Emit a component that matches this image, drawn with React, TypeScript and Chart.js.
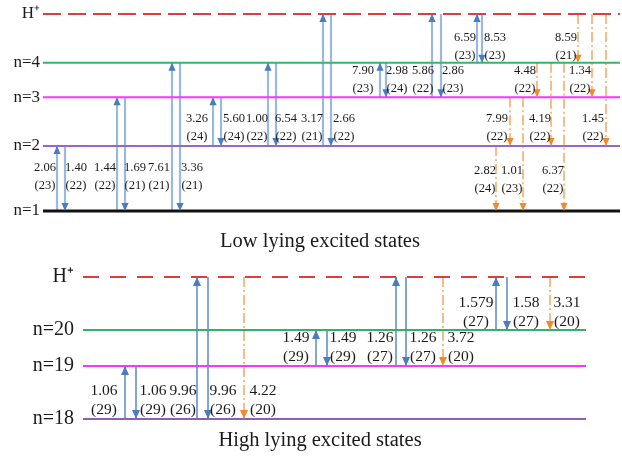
import React, { useEffect, useRef } from "react";
import { Chart, registerables } from "chart.js";

Chart.register(...registerables);

const FONT = "'Liberation Serif', 'Times New Roman', serif";

// ---------- Low lying excited states ----------
const lowTitle = "Low lying excited states";
const lowLevelNames = ["n=1", "n=2", "n=3", "n=4", "H\u207A"];
const lowLevelValues = [0, 1, 1.75, 2.28, 3.03];
const lowLevelColors = ["#111111", "#9966c2", "#ff33ff", "#33b56c", "#e23b3b"];
const lowArrowX = [14, 22, 74, 82, 129, 137, 170, 178, 225, 233, 280, 288, 337, 343, 389, 398, 434, 439,
  453, 467, 480, 494, 508, 521, 535, 549, 563];
const lowFrom = [0, 1, 0, 2, 0, 3, 1, 2, 1, 3, 1, 4, 2, 3, 2, 4, 3, 4,
  1, 2, 2, 3, 3, 3, 4, 4, 4];
const lowTo = [1, 0, 2, 0, 3, 0, 2, 1, 3, 1, 4, 1, 3, 2, 4, 2, 4, 3,
  0, 1, 0, 2, 1, 0, 3, 2, 1];
const lowKind = ["a", "a", "a", "a", "a", "a", "a", "a", "a", "a", "a", "a", "a", "a", "a", "a", "a", "a",
  "e", "e", "e", "e", "e", "e", "e", "e", "e"];
const lowValue = ["2.06", "1.40", "1.44", "1.69", "7.61", "3.36", "3.26", "5.60", "1.00", "6.54", "3.17", "2.66",
  "7.90", "2.98", "5.86", "2.86", "6.59", "8.53",
  "2.82", "7.99", "1.01", "4.48", "4.19", "6.37", "8.59", "1.34", "1.45"];
const lowCount = ["23", "22", "22", "21", "21", "21", "24", "24", "22", "22", "21", "22",
  "23", "24", "22", "23", "23", "23",
  "24", "22", "23", "22", "22", "22", "21", "22", "22"];
const lowLabelX = [2, 33, 62, 92, 116, 149, 154, 191, 214, 243, 269, 301, 320, 354, 380, 410, 422, 452,
  442, 454, 469, 482, 497, 510, 523, 537, 550];
const lowLabelY = [0.52, 0.52, 0.52, 0.52, 0.52, 0.52, 1.28, 1.28, 1.28, 1.28, 1.28, 1.28,
  2.02, 2.02, 2.02, 2.02, 2.52, 2.52,
  0.48, 1.28, 0.48, 2.02, 1.28, 0.48, 2.52, 2.02, 1.28];

// ---------- High lying excited states ----------
const highTitle = "High lying excited states";
const highLevelNames = ["n=18", "n=19", "n=20", "H\u207A"];
const highLevelValues = [0, 1, 1.68, 2.68];
const highLevelColors = ["#8e5fb8", "#ff33ff", "#2fb365", "#e23b3b"];
const highArrowX = [42, 53, 114, 125, 161, 233, 244, 313, 323, 360, 413, 424, 467];
const highFrom = [0, 1, 0, 3, 3, 1, 2, 1, 3, 3, 2, 3, 3];
const highTo = [1, 0, 3, 0, 0, 2, 1, 3, 1, 1, 3, 2, 2];
const highKind = ["a", "a", "a", "a", "e", "a", "a", "a", "a", "e", "a", "a", "e"];
const highValue = ["1.06", "1.06", "9.96", "9.96", "4.22", "1.49", "1.49", "1.26", "1.26", "3.72", "1.579", "1.58", "3.31"];
const highCount = ["29", "29", "26", "26", "20", "29", "29", "27", "27", "20", "27", "27", "20"];
const highLabelX = [21, 70, 100, 140, 180, 213, 260, 297, 340, 378, 393, 443, 484];
const highLabelY = [0.35, 0.35, 0.35, 0.35, 0.35, 1.35, 1.35, 1.35, 1.35, 1.35, 2.01, 2.01, 2.01];

type Panel = {
  title: string;
  names: string[];
  levels: number[];
  levelColors: string[];
  x: number[];
  from: number[];
  to: number[];
  kind: string[];
  value: string[];
  count: string[];
  lx: number[];
  ly: number[];
  xMax: number;
  width: number;
  height: number;
  padding: { left: number; right: number; top: number; bottom: number };
  axisW: number;
  tickPad: number;
  levelFont: number;
  numFont: number;
  lineGap: number;
  blue: string;
  blueW: number;
  headW: number;
  headL: number;
  dash: number[];
  titleX: number;
  titleY: number;
  titleFont: number;
};

const lowPanel: Panel = {
  title: lowTitle, names: lowLevelNames, levels: lowLevelValues, levelColors: lowLevelColors,
  x: lowArrowX, from: lowFrom, to: lowTo, kind: lowKind, value: lowValue, count: lowCount,
  lx: lowLabelX, ly: lowLabelY,
  xMax: 577, width: 622, height: 256,
  padding: { left: 0, right: 2, top: 14, bottom: 45 },
  axisW: 43, tickPad: 3, levelFont: 17, numFont: 12.5, lineGap: 18,
  blue: "#9ab8e2", blueW: 2.2, headW: 3.6, headL: 8, dash: [18, 7],
  titleX: 320, titleY: 242, titleFont: 20.5,
};

const highPanel: Panel = {
  title: highTitle, names: highLevelNames, levels: highLevelValues, levelColors: highLevelColors,
  x: highArrowX, from: highFrom, to: highTo, kind: highKind, value: highValue, count: highCount,
  lx: highLabelX, ly: highLabelY,
  xMax: 503, width: 622, height: 200,
  padding: { left: 0, right: 36, top: 13, bottom: 37 },
  axisW: 83, tickPad: 9, levelFont: 20, numFont: 15.5, lineGap: 19,
  blue: "#5b88c8", blueW: 1.5, headW: 4, headL: 9, dash: [16, 11],
  titleX: 320, titleY: 185, titleFont: 20.5,
};

const decorPlugin = {
  id: "decor",
  afterDatasetsDraw(chart: any) {
    const p: Panel = chart.options.plugins.decor.panel;
    const ctx = chart.ctx;
    ctx.save();
    chart.data.datasets.forEach((ds: any, i: number) => {
      if (!ds.isArrow) return;
      const meta = chart.getDatasetMeta(i);
      const a = meta.data[0];
      const b = meta.data[1];
      const dir = Math.sign(b.y - a.y);
      ctx.fillStyle = ds.headColor;
      ctx.beginPath();
      ctx.moveTo(b.x, b.y);
      ctx.lineTo(b.x - p.headW, b.y - dir * p.headL);
      ctx.lineTo(b.x + p.headW, b.y - dir * p.headL);
      ctx.closePath();
      ctx.fill();
    });
    const xs = chart.scales.x;
    const ys = chart.scales.y;
    ctx.fillStyle = "#1a1a1a";
    ctx.font = `${p.numFont}px ${FONT}`;
    ctx.textAlign = "center";
    ctx.textBaseline = "middle";
    p.value.forEach((v, i) => {
      const px = xs.getPixelForValue(p.lx[i]);
      const py = ys.getPixelForValue(p.ly[i]);
      ctx.fillText(v, px, py - p.lineGap / 2);
      ctx.fillText(`(${p.count[i]})`, px, py + p.lineGap / 2);
    });
    ctx.font = `${p.titleFont}px ${FONT}`;
    ctx.fillText(p.title, p.titleX, p.titleY);
    ctx.restore();
  },
};

function buildConfig(p: Panel): any {
  const datasets: any[] = [];
  const top = p.levels.length - 1;
  p.levels.forEach((v, i) => {
    datasets.push({
      type: "line",
      data: [{ x: 0, y: v }, { x: p.xMax, y: v }],
      borderColor: p.levelColors[i],
      borderWidth: i === 0 && p === lowPanel ? 3 : 2,
      borderDash: i === top ? p.dash : [],
      pointRadius: 0,
      clip: false,
    });
  });
  p.x.forEach((x, i) => {
    const emit = p.kind[i] === "e";
    datasets.push({
      type: "line",
      data: [{ x, y: p.levels[p.from[i]] }, { x, y: p.levels[p.to[i]] }],
      borderColor: emit ? "#f7a560" : p.blue,
      borderWidth: emit ? 1.5 : p.blueW,
      borderDash: emit ? [10, 3, 2, 3] : [],
      pointRadius: 0,
      clip: false,
      isArrow: true,
      headColor: emit ? "#f28a2a" : "#4a7cc0",
    });
  });
  return {
    type: "line",
    data: { datasets },
    options: {
      animation: false,
      responsive: false,
      events: [],
      layout: { padding: p.padding },
      plugins: { legend: { display: false }, tooltip: { enabled: false }, title: { display: false }, decor: { panel: p } },
      scales: {
        x: { type: "linear", display: false, min: 0, max: p.xMax },
        y: {
          type: "linear",
          min: 0,
          max: p.levels[top],
          grid: { display: false, drawTicks: false },
          border: { display: false },
          ticks: {
            autoSkip: false,
            padding: p.tickPad,
            color: "#1a1a1a",
            font: { family: FONT, size: p.levelFont },
            callback: (_v: any, i: number) => p.names[i],
          },
          afterBuildTicks: (s: any) => {
            s.ticks = p.levels.map((v) => ({ value: v }));
          },
          afterFit: (s: any) => {
            s.width = p.axisW;
          },
        },
      },
    },
    plugins: [decorPlugin],
  };
}

function PanelChart({ panel, top }: { panel: Panel; top: number }) {
  const ref = useRef<HTMLCanvasElement | null>(null);
  useEffect(() => {
    if (!ref.current) return;
    const chart = new Chart(ref.current, buildConfig(panel));
    return () => chart.destroy();
  }, [panel]);
  return (
    <canvas
      ref={ref}
      width={panel.width}
      height={panel.height}
      style={{ position: "absolute", left: 0, top, width: panel.width, height: panel.height, display: "block" }}
    />
  );
}

export default function App() {
  return (
    <div style={{ position: "absolute", left: 0, top: 0, width: 622, height: 456, background: "#ffffff" }}>
      <PanelChart panel={lowPanel} top={0} />
      <PanelChart panel={highPanel} top={256} />
    </div>
  );
}
